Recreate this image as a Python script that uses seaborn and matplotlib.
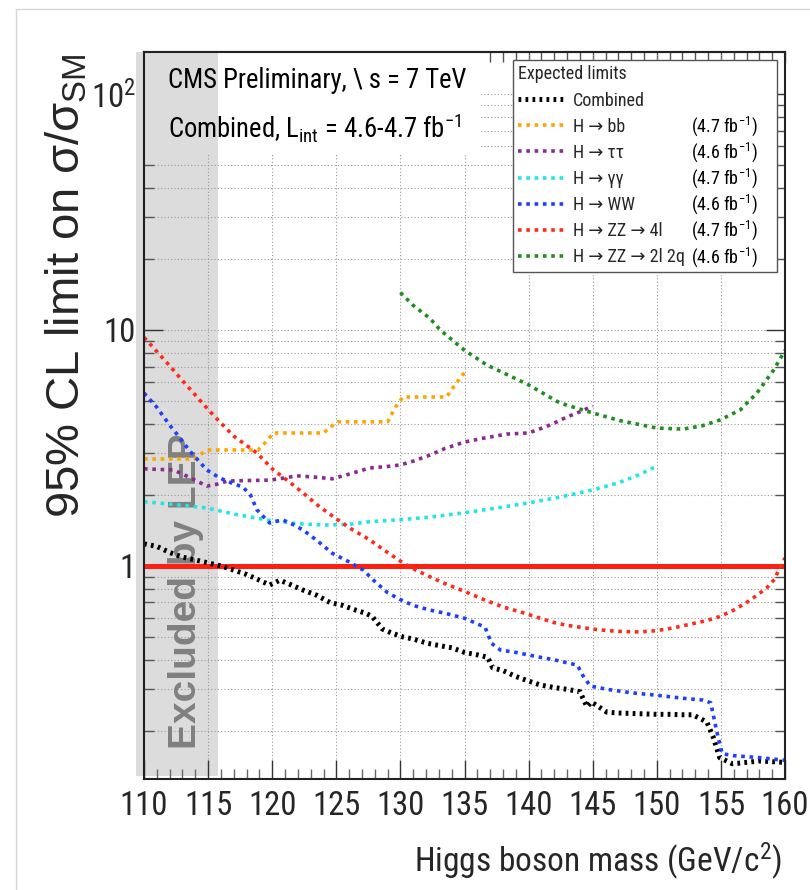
import matplotlib
matplotlib.use("Agg")
import matplotlib.pyplot as plt
import seaborn as sns
from matplotlib import font_manager
from matplotlib.lines import Line2D
from matplotlib.patches import Rectangle
from matplotlib.ticker import LogLocator, MultipleLocator, NullFormatter
from matplotlib.transforms import blended_transform_factory

# ---------------------------------------------------------------- data
# Expected 95% CL upper limits on sigma/sigma_SM versus Higgs mass (GeV/c^2)
comb_mass = [110, 111, 112, 113, 114, 115, 116, 117, 118, 119, 119.8, 120.6,
             121.5, 122.4, 123.5, 124.5, 125.5, 126.5, 127.3, 127.8, 128.6,
             129.3, 130.2, 131, 132.1, 133, 134, 135, 136, 136.8, 137.2, 138,
             139, 140, 140.9, 142, 143, 144, 144.55, 144.9, 146.1, 147, 148,
             149, 150, 151, 152, 152.8, 153.9, 154.4, 154.9, 155.9, 157, 158,
             159, 160]
comb_limit = [1.24, 1.21, 1.14, 1.09, 1.06, 1.03, 1.0, 0.96, 0.92, 0.87, 0.83,
              0.87, 0.83, 0.79, 0.75, 0.70, 0.68, 0.65, 0.63, 0.61, 0.54, 0.52,
              0.50, 0.49, 0.47, 0.46, 0.45, 0.43, 0.42, 0.41, 0.37, 0.36, 0.34,
              0.325, 0.313, 0.305, 0.30, 0.293, 0.253, 0.265, 0.24, 0.238,
              0.237, 0.236, 0.235, 0.235, 0.234, 0.234, 0.218, 0.188, 0.154,
              0.145, 0.147, 0.149, 0.148, 0.147]

bb_mass = [110, 113.9, 114.9, 118.9, 119.5, 120.1, 124.0, 124.6, 125.1, 129.0,
           129.6, 130.2, 133.6, 134.3, 135]
bb_limit = [2.84, 2.84, 3.1, 3.1, 3.35, 3.66, 3.66, 3.9, 4.08, 4.08, 4.7, 5.2,
            5.2, 5.9, 6.6]

tt_mass = [110, 112.3, 113.5, 114.9, 115.7, 116.5, 118, 119.8, 121, 121.9,
           123.3, 124.7, 126, 127.6, 129, 130, 131, 132.3, 133.5, 135, 136.5,
           138.3, 140, 141.4, 142.2, 143, 144, 145]
tt_limit = [2.58, 2.55, 2.38, 2.18, 2.22, 2.29, 2.3, 2.31, 2.36, 2.41, 2.38,
            2.34, 2.45, 2.6, 2.64, 2.68, 2.78, 2.95, 3.15, 3.35, 3.48, 3.62,
            3.66, 3.9, 4.08, 4.28, 4.5, 4.76]

gg_mass = [110, 112, 114.9, 117, 119.8, 122, 124, 126, 127.6, 130, 132.3, 135,
           137.5, 140, 142.5, 145, 147, 148.5, 150]
gg_limit = [1.87, 1.83, 1.76, 1.66, 1.56, 1.51, 1.49, 1.50, 1.54, 1.57, 1.61,
            1.68, 1.76, 1.85, 1.96, 2.10, 2.25, 2.42, 2.65]

ww_mass = [110, 111, 112, 112.6, 113.5, 114.9, 115.9, 116.8, 117.7, 118.3,
           118.8, 119.8, 120.8, 121.6, 122.4, 123.5, 124.7, 126, 127.1, 128,
           129, 130, 131, 132.3, 133.5, 135, 136.6, 137.1, 137.8, 139, 140.9,
           142, 143.8, 144.2, 144.8, 146.1, 148, 150, 152, 153.6, 154.2, 154.7,
           155.1, 156, 158, 160]
ww_limit = [5.4, 4.7, 3.95, 3.6, 3.1, 2.55, 2.36, 2.25, 2.16, 2.0, 1.73, 1.52,
            1.57, 1.50, 1.42, 1.28, 1.13, 1.04, 0.96, 0.86, 0.77, 0.72, 0.68,
            0.65, 0.63, 0.60, 0.55, 0.47, 0.44, 0.43, 0.41, 0.40, 0.38, 0.345,
            0.31, 0.30, 0.29, 0.283, 0.275, 0.27, 0.263, 0.196, 0.16, 0.157,
            0.154, 0.15]

zz4l_mass = [110, 111, 112, 113, 114, 115, 115.9, 117, 118.8, 120.1, 121.2,
             122.4, 123.7, 125.1, 126.3, 127.6, 128.9, 130.2, 131.2, 132.3,
             133.5, 135, 136.5, 138, 139.5, 140.9, 142, 143, 144, 145, 146,
             147, 148.7, 150, 151.3, 152.5, 153.8, 154.9, 156, 157, 157.8,
             158.6, 159.2, 159.6, 160]
zz4l_limit = [9.3, 8.1, 7.05, 6.1, 5.3, 4.6, 4.08, 3.55, 3.01, 2.55, 2.3, 2.04,
              1.78, 1.57, 1.42, 1.29, 1.15, 1.03, 0.96, 0.90, 0.84, 0.78, 0.72,
              0.67, 0.635, 0.60, 0.575, 0.56, 0.55, 0.54, 0.533, 0.528, 0.525,
              0.532, 0.546, 0.565, 0.585, 0.61, 0.65, 0.70, 0.75, 0.81, 0.88,
              0.99, 1.08]

zz2l2q_mass = [130, 131, 132.3, 133.1, 135, 136.75, 138.5, 140, 142.45, 145,
               147.1, 150, 152, 153.5, 154.9, 156.5, 157.8, 159.1, 160]
zz2l2q_limit = [14.4, 12.7, 11.2, 10.0, 8.2, 7.1, 6.4, 5.85, 4.9, 4.45, 4.13,
                3.84, 3.8, 3.92, 4.15, 4.58, 5.4, 6.75, 8.2]

channel_labels = ["Combined", "H → bb", "H → ττ", "H → γγ", "H → WW",
                  "H → ZZ → 4l", "H → ZZ → 2l 2q"]
channel_lumi = [None, "4.7", "4.6", "4.7", "4.6", "4.7", "4.6"]

x_ticks = [110, 115, 120, 125, 130, 135, 140, 145, 150, 155, 160]
x_tick_labels = ["110", "115", "120", "125", "130", "135", "140", "145",
                 "150", "155", "160"]
y_ticks = [1, 10, 100]
y_tick_labels = ["1", "10", "10$^{2}$"]

LEP_LIMIT = 115.8      # upper edge of the LEP exclusion band
SM_RATIO = 1.0         # sigma / sigma_SM = 1

# ---------------------------------------------------------------- style
sns.set_theme(style="white")
available = [f.name for f in font_manager.fontManager.ttflist]
narrow_pref = ["Roboto Condensed", "Liberation Sans Narrow",
               "Open Sans Condensed", "Noto Sans Condensed"]
NARROW = next((n for n in narrow_pref if n in available), "Liberation Sans")
WIDE = "Liberation Sans"
plt.rcParams["font.family"] = [NARROW, "DejaVu Sans"]
plt.rcParams["mathtext.fontset"] = "custom"
plt.rcParams["mathtext.rm"] = NARROW
plt.rcParams["mathtext.it"] = NARROW + ":italic"
plt.rcParams["mathtext.bf"] = NARROW + ":bold"
plt.rcParams["mathtext.sf"] = WIDE
plt.rcParams["axes.unicode_minus"] = True

FS_TICK = 23.5
FS_HEAD = 19.2
FS_XLAB = 24
FS_LEG = 13
FS_LEGT = 13

W, H = 810, 890
fig = plt.figure(figsize=(W / 100, H / 100), dpi=100)
fig.patch.set_facecolor("white")
ax = fig.add_axes([0.1778, 0.1247, 0.7914, 0.8169])
ax.set_facecolor("white")

# ---------------------------------------------------------------- curves
DOT = (0, (1.0, 1.3))
series = [
    (comb_mass, comb_limit, "#000000", 3.6, (0, (0.55, 0.85))),
    (bb_mass, bb_limit, "#ffa500", 2.6, DOT),
    (tt_mass, tt_limit, "#8b2a8f", 2.6, DOT),
    (gg_mass, gg_limit, "#22e5e5", 2.6, DOT),
    (ww_mass, ww_limit, "#1f3fff", 2.6, DOT),
    (zz4l_mass, zz4l_limit, "#ff2a1a", 2.6, DOT),
    (zz2l2q_mass, zz2l2q_limit, "#1e8e1e", 2.6, DOT),
]
for xs, ys, color, lw, ls in series:
    sns.lineplot(x=xs, y=ys, ax=ax, color=color, lw=lw, linestyle=ls,
                 estimator=None, sort=False, legend=False, zorder=3)

ax.axhline(SM_RATIO, color="#ff1f0f", lw=3.6, zorder=2.5)

# ---------------------------------------------------------------- axes
ax.set_yscale("log")
ax.set_xlim(110, 160)
ax.set_ylim(0.125, 150.7)

ax.set_xticks(x_ticks, labels=x_tick_labels)
ax.xaxis.set_minor_locator(MultipleLocator(1))
ax.set_yticks(y_ticks, labels=y_tick_labels)
ax.yaxis.set_minor_locator(LogLocator(base=10, subs=range(2, 10)))
ax.yaxis.set_minor_formatter(NullFormatter())

ax.tick_params(axis="x", which="major", direction="in", length=14, width=1.0,
               color="#333333", pad=8, labelsize=FS_TICK, bottom=True, top=False)
ax.tick_params(axis="x", which="minor", direction="in", length=7, width=1.0,
               color="#666666", bottom=True, top=False)
ax.tick_params(axis="y", which="major", direction="in", length=14, width=1.0,
               color="#333333", pad=6, labelsize=FS_TICK, left=True, right=True)
ax.tick_params(axis="y", which="minor", direction="in", length=7, width=1.0,
               color="#555555", left=True, right=True)

top = ax.secondary_xaxis("top")
top.set_xticks(x_ticks, labels=[])
top.xaxis.set_minor_locator(MultipleLocator(1))
top.tick_params(which="both", direction="in", length=7, width=1.0,
                color="#555555")
top.spines["top"].set_linewidth(1.5)
top.spines["top"].set_color("#222222")

for s in ax.spines.values():
    s.set_linewidth(1.5)
    s.set_color("#222222")
    s.set_zorder(4)

# dotted grid at major mass ticks and at every y tick (major + minor)
grid_kw = dict(color="#999999", lw=0.8, ls=(0, (1, 2)), zorder=0.5)
for xv in x_ticks[1:-1]:
    ax.axvline(xv, **grid_kw)
lo, hi = ax.get_ylim()
for yv in list(ax.yaxis.get_minorticklocs()) + y_ticks:
    if lo < yv < hi:
        ax.axhline(yv, **grid_kw)

# LEP exclusion band
band = blended_transform_factory(ax.transData, ax.transAxes)
ax.add_patch(Rectangle((109.4, 0.004), LEP_LIMIT - 109.4, 0.996,
                       transform=band, facecolor="#dcdcdc", edgecolor="none",
                       zorder=0.3, clip_on=False))
# blank panel behind the header text
ax.add_patch(Rectangle((0, 0.858), 0.524, 0.142, transform=ax.transAxes,
                       facecolor="white", edgecolor="none", zorder=0.6))
ax.add_patch(Rectangle((110, 0.858), LEP_LIMIT - 110, 0.142, transform=band,
                       facecolor="#dcdcdc", edgecolor="none", zorder=0.65))

ax.text(0.0655, 0.2586, "Excluded by LEP", rotation=90, transform=ax.transAxes,
        ha="center", va="center", fontsize=28, fontweight="bold",
        color="#808080", family=[WIDE, "DejaVu Sans"], zorder=1)

ax.text(0.0374, 0.9505, "CMS Preliminary, \\ s = 7 TeV", transform=ax.transAxes,
        ha="left", va="baseline", fontsize=FS_HEAD, color="black", zorder=4)
ax.text(0.0374, 0.883, r"Combined, L$_{\mathrm{int}}$ = 4.6-4.7 fb$^{-1}$",
        transform=ax.transAxes, ha="left", va="baseline", fontsize=FS_HEAD,
        color="black", zorder=4)

# axis titles
ax.set_xlabel("Higgs boson mass (GeV/c$^{2}$)", fontsize=FS_XLAB, ha="right")
ax.xaxis.set_label_coords(0.995, -0.128)
ax.xaxis.label.set_va("baseline")

ax.set_ylabel(r"95% CL limit on σ/σ$_{\mathsf{SM}}$", fontsize=34,
              family=[WIDE, "DejaVu Sans"])
ax.yaxis.set_label_coords(-0.12, 0.679)
ax.yaxis.label.set_va("center")
ax.yaxis.label.set_ha("center")

# ---------------------------------------------------------------- legend
handles = [Line2D([], [], color=c, lw=lw, ls=ls) for _, _, c, lw, ls in series]
leg = ax.legend(handles, channel_labels, title="Expected limits",
                loc="upper left", bbox_to_anchor=(0.5757, 0.703, 0.412, 0.286),
                mode="expand", borderaxespad=0, frameon=True, fancybox=False,
                edgecolor="#555555", framealpha=1, fontsize=FS_LEG,
                title_fontsize=FS_LEGT, handlelength=2.5, handletextpad=0.5,
                labelspacing=0.45, borderpad=0.3, alignment="left")
leg.get_frame().set_linewidth(1.0)
leg.set_zorder(5)

fig.canvas.draw()
for text, lumi in zip(leg.get_texts(), channel_lumi):
    if lumi is None:
        continue
    _, yb = text.get_transform().transform(text.get_position())
    fig.text(758 / W, yb / H, f"({lumi} fb$^{{-1}}$)", ha="right",
             va="baseline", fontsize=FS_LEG, color="black", zorder=6)

# page border
fig.add_artist(Line2D([15.5 / W, 15.5 / W], [0, 1 - 8.5 / H],
                      transform=fig.transFigure, color="#d6d6d6", lw=1))
fig.add_artist(Line2D([15.5 / W, 1], [1 - 8.5 / H, 1 - 8.5 / H],
                      transform=fig.transFigure, color="#d6d6d6", lw=1))

fig.savefig("out.png", dpi=100)
